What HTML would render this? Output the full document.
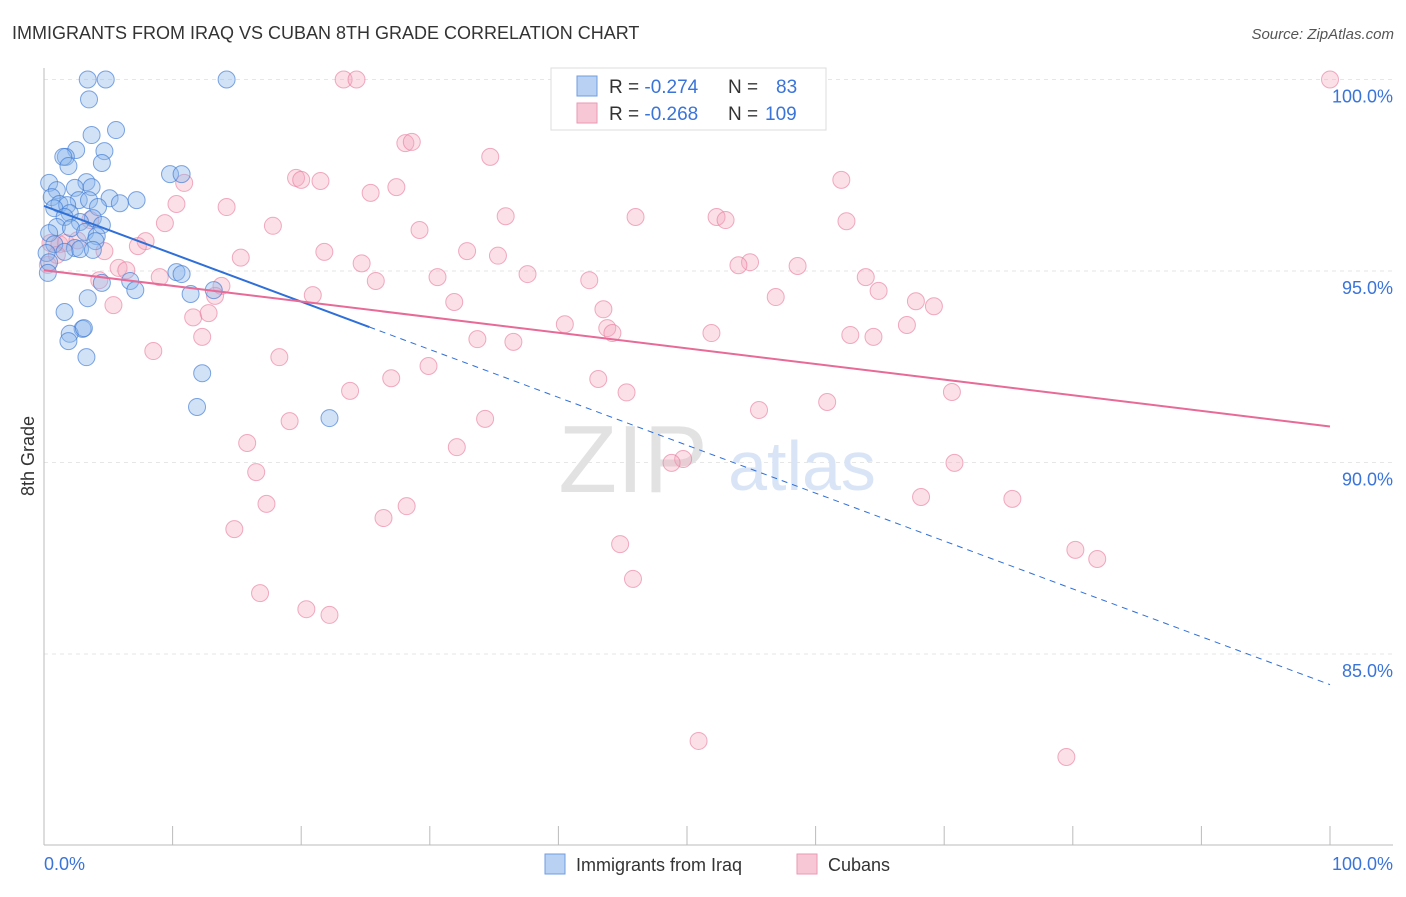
<!DOCTYPE html>
<html><head><meta charset="utf-8"><style>
body{margin:0;background:#fff;font-family:"Liberation Sans",sans-serif;}
svg text{font-family:"Liberation Sans",sans-serif;}
</style></head><body>
<svg width="1406" height="892" xmlns="http://www.w3.org/2000/svg">
<text x="12" y="39" font-size="18" fill="#333">IMMIGRANTS FROM IRAQ VS CUBAN 8TH GRADE CORRELATION CHART</text>
<text x="1394" y="39" font-size="15" fill="#555" font-style="italic" text-anchor="end">Source: ZipAtlas.com</text>
<g id="grid"></g>
<text x="633" y="492" font-size="96" fill="#e2e2e2" font-family="Liberation Serif" text-anchor="middle">ZIP</text>
<text x="802" y="490" font-size="70" fill="#d9e5f6" text-anchor="middle">atlas</text>
<g id="pts"></g>
<g id="lines"></g>
<text transform="translate(34,456) rotate(-90)" font-size="18" fill="#333" text-anchor="middle">8th Grade</text>
<text x="44" y="870" font-size="18" fill="#3a74d8">0.0%</text>
<text x="1393" y="870" font-size="18" fill="#3a74d8" text-anchor="end">100.0%</text>
<g>
<rect x="551" y="68" width="275" height="62" fill="#fff" stroke="#ddd"/>
<rect x="577" y="76" width="20" height="20" fill="#b9d1f3" stroke="#6f9de0"/>
<rect x="577" y="103" width="20" height="20" fill="#f8c7d6" stroke="#ea9ab3"/>
<text x="609" y="93" font-size="19" fill="#333">R = <tspan fill="#3a74d8">-0.274</tspan><tspan x="728">N = </tspan><tspan x="776" fill="#3a74d8">83</tspan></text>
<text x="609" y="120" font-size="19" fill="#333">R = <tspan fill="#3a74d8">-0.268</tspan><tspan x="728">N = </tspan><tspan x="765" fill="#3a74d8">109</tspan></text>
</g>
<g>
<rect x="545" y="854" width="20" height="20" fill="#b9d1f3" stroke="#6f9de0"/>
<text x="576" y="871" font-size="18" fill="#333">Immigrants from Iraq</text>
<rect x="797" y="854" width="20" height="20" fill="#f8c7d6" stroke="#ea9ab3"/>
<text x="828" y="871" font-size="18" fill="#333">Cubans</text>
</g>
</svg>
<script>
const yTicks=[100,95,90,85];
const xTicks=[0,10,20,30,40,50,60,70,80,90,100];
const blueX=[3.4,4.8,14.2,3.5,5.6,3.7,4.7,2.5,1.7,1.5,4.5,1.9,9.8,10.7,0.4,3.3,1.0,2.4,3.7,0.6,7.2,5.1,2.7,3.5,5.9,1.2,1.8,0.8,4.2,2.0,1.6,3.8,2.8,4.5,1.0,2.1,3.2,0.4,4.1,4.0,0.8,2.4,2.8,3.8,1.6,0.2,0.4,0.3,10.3,10.7,4.5,6.7,7.1,11.4,13.2,3.4,1.6,3.0,2.0,3.1,1.9,3.3,12.3,11.9,22.2];
const blueY=[100,100,100,99.48,98.68,98.55,98.13,98.16,97.98,97.98,97.82,97.74,97.53,97.53,97.3,97.32,97.11,97.17,97.19,96.93,96.85,96.9,96.85,96.85,96.77,96.75,96.72,96.64,96.67,96.51,96.41,96.38,96.28,96.2,96.15,96.12,96.02,95.99,95.91,95.78,95.7,95.6,95.57,95.55,95.5,95.47,95.23,94.95,94.97,94.92,94.69,94.74,94.5,94.4,94.5,94.29,93.93,93.49,93.36,93.51,93.17,92.75,92.33,91.45,91.16];
const pinkX=[100,23.3,24.3,28.1,28.6,34.7,62.0,19.6,20.0,21.5,27.4,25.4,10.9,10.3,14.2,9.4,35.9,46.0,52.3,53.0,62.4,17.8,29.2,7.9,7.3,4.7,32.9,21.8,35.3,15.3,24.7,54.9,54.0,58.6,5.8,6.4,37.6,30.6,9.0,25.8,42.4,63.9,4.3,64.9,13.8,13.3,20.9,56.9,67.8,69.2,5.4,31.9,43.5,11.6,12.8,40.5,43.8,44.2,67.1,51.9,62.7,64.5,33.7,36.5,12.3,8.5,18.3,29.9,27.0,43.1,23.8,45.3,70.6,60.9,55.6,19.1,34.3,15.8,32.1,49.7,48.8,70.8,16.5,68.2,75.3,17.3,28.2,26.4,14.8,44.8,80.2,81.9,45.8,16.8,20.4,22.2,50.9,79.5,0.5,1.2,1.7,3.6,0.3,1.0,2.6];
const pinkY=[100,100,100,98.34,98.37,97.98,97.38,97.43,97.38,97.35,97.19,97.04,97.3,96.75,96.67,96.25,96.43,96.41,96.41,96.33,96.3,96.18,96.07,95.78,95.65,95.52,95.52,95.5,95.4,95.35,95.2,95.23,95.15,95.13,95.08,95.02,94.92,94.84,94.84,94.74,94.76,94.84,94.76,94.48,94.61,94.35,94.37,94.32,94.21,94.08,94.11,94.19,94.0,93.79,93.9,93.61,93.51,93.38,93.59,93.38,93.33,93.28,93.22,93.15,93.28,92.91,92.75,92.52,92.2,92.18,91.87,91.83,91.84,91.58,91.37,91.08,91.14,90.51,90.4,90.09,89.99,89.99,89.75,89.1,89.05,88.92,88.86,88.55,88.26,87.87,87.72,87.48,86.96,86.59,86.17,86.02,82.73,82.31,95.73,95.7,95.73,96.33,95.16,95.42,95.8];
const blueTrend=[96.7,-0.125,25.3];
const pinkTrend=[95.02,-0.0408];
const NS="http://www.w3.org/2000/svg";
const sx=v=>44+v*12.86;
const sy=v=>79.5+(100-v)*38.3;
function mk(tag,at,parent){const e=document.createElementNS(NS,tag);for(const k in at)e.setAttribute(k,at[k]);parent.appendChild(e);return e;}
const grid=document.getElementById('grid');
yTicks.forEach(t=>{
 const l=mk('line',{x1:44,x2:1393,y1:sy(t),y2:sy(t),stroke:'#e6e6e6','stroke-dasharray':'4,4'},grid);
 
 
 const tx=mk('text',{x:1393,y:sy(t)+23,'font-size':18,fill:'#3a74d8','text-anchor':'end'},grid);
 tx.textContent=t.toFixed(1)+'%';
 
 
});
mk('line',{x1:44,x2:44,y1:68,y2:845,stroke:'#bbb'},grid);
mk('line',{x1:44,x2:1393,y1:845,y2:845,stroke:'#bbb'},grid);
xTicks.forEach(t=>{
 const l=mk('line',{x1:sx(t),x2:sx(t),y1:826,y2:845,stroke:'#bbb'},grid);
 
 
});
const pts=document.getElementById('pts');
pinkX.forEach((x,i)=>{
 const c=mk('circle',{cx:sx(x),cy:sy(pinkY[i]),r:8.5,fill:'rgba(244,166,190,0.35)',stroke:'rgba(232,120,155,0.6)','stroke-width':1},pts);
 
 
});
blueX.forEach((x,i)=>{
 const c=mk('circle',{cx:sx(x),cy:sy(blueY[i]),r:8.5,fill:'rgba(140,182,236,0.4)',stroke:'rgba(60,120,210,0.65)','stroke-width':1},pts);
 
 
});
const lines=document.getElementById('lines');
const bf=x=>blueTrend[0]+blueTrend[1]*x;
const pf=x=>pinkTrend[0]+pinkTrend[1]*x;
const b1=mk('line',{x1:sx(0),y1:sy(bf(0)),x2:sx(blueTrend[2]),y2:sy(bf(blueTrend[2])),stroke:'#2f6fd8','stroke-width':2},lines);


const b2=mk('line',{x1:sx(blueTrend[2]),y1:sy(bf(blueTrend[2])),x2:sx(100),y2:sy(bf(100)),stroke:'#2f6fd8','stroke-width':1,'stroke-dasharray':'6,5'},lines);


const p1=mk('line',{x1:sx(0),y1:sy(pf(0)),x2:sx(100),y2:sy(pf(100)),stroke:'#e76a97','stroke-width':2},lines);


</script>
</body></html>
